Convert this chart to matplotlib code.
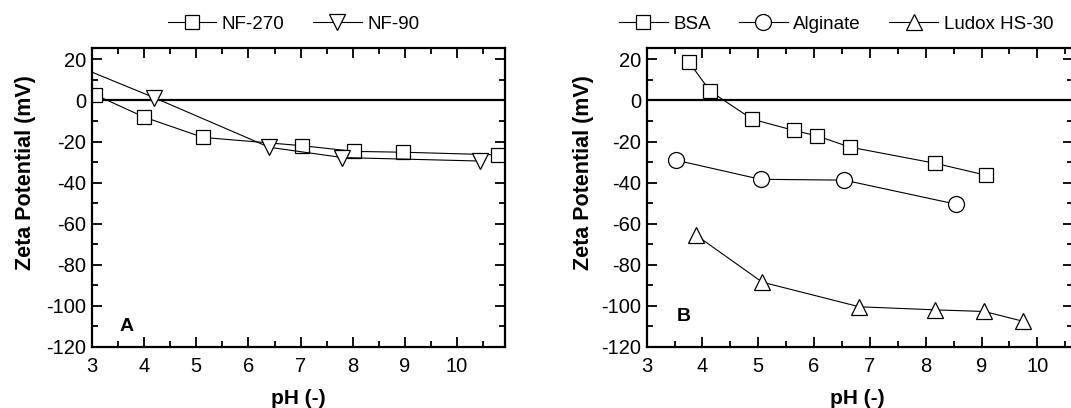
import numpy as np
import matplotlib
matplotlib.use('Agg')
import matplotlib.pyplot as plt
from matplotlib.ticker import MultipleLocator

plt.rcParams['font.family'] = ['Liberation Sans', 'DejaVu Sans']
plt.rcParams['font.size'] = 14.5
plt.rcParams['axes.unicode_minus'] = False

# panel A - membranes
ph_nf270 = [3.06, 4.0, 5.13, 7.02, 8.03, 8.96, 10.79]
zp_nf270 = [2.8, -8.1, -18.0, -22.0, -24.8, -25.2, -26.5]
ph_nf90 = [2.75, 4.19, 6.4, 7.8, 10.44]
zp_nf90 = [16.4, 1.4, -22.8, -27.8, -29.5]

# panel B - foulants
ph_bsa = [3.76, 4.14, 4.89, 5.64, 6.06, 6.64, 8.17, 9.08]
zp_bsa = [18.6, 4.5, -9.1, -14.6, -17.3, -22.7, -30.6, -36.4]
ph_alg = [3.53, 5.04, 6.54, 8.54]
zp_alg = [-29.1, -38.4, -38.8, -50.5]
ph_ludox = [3.88, 5.07, 6.81, 8.17, 9.05, 9.75]
zp_ludox = [-65.5, -88.5, -100.5, -102.0, -102.8, -107.6]

fig = plt.figure(figsize=(10.71, 4.08), dpi=100)
axA = fig.add_axes([0.0859, 0.150, 0.3856, 0.732])
axB = fig.add_axes([0.6038, 0.150, 0.3981, 0.732])

mk = dict(color='black', lw=0.8, mfc='white', mec='black', mew=0.9)

axA.plot(ph_nf270, zp_nf270, marker='s', ms=10.5, label='NF-270', **mk)
axA.plot(ph_nf90, zp_nf90, marker='v', ms=11, label='NF-90', **mk)

axB.plot(ph_bsa, zp_bsa, marker='s', ms=10.5, label='BSA', **mk)
axB.plot(ph_alg, zp_alg, marker='o', ms=11.5, label='Alginate', **mk)
axB.plot(ph_ludox, zp_ludox, marker='^', ms=11, label='Ludox HS-30', **mk)

panels = [(axA, 10.92, 'A', -110, -0.162, 0.5), (axB, 10.64, 'B', -105, -0.147, 0.493)]
for ax, xmax, letter, ly, ylx, xlx in panels:
    ax.axhline(0, color='black', lw=1.6, zorder=1)
    ax.set_xlim(3, xmax)
    ax.set_ylim(-120, 25.5)
    ax.xaxis.set_major_locator(MultipleLocator(1))
    ax.xaxis.set_minor_locator(MultipleLocator(0.5))
    ax.yaxis.set_major_locator(MultipleLocator(20))
    ax.yaxis.set_minor_locator(MultipleLocator(10))
    ax.tick_params(which='both', direction='in', top=True, right=True, width=1.3)
    ax.tick_params(which='major', length=7, pad=4)
    ax.tick_params(axis='x', which='major', pad=7)
    ax.tick_params(which='minor', length=4)
    for s in ax.spines.values():
        s.set_linewidth(1.6)
    ax.set_xlabel('pH (-)', fontweight='bold', fontsize=15)
    ax.set_ylabel('Zeta Potential (mV)', fontweight='bold', fontsize=15.5, va='center')
    ax.xaxis.set_label_coords(xlx, -0.14)
    ax.yaxis.set_label_coords(ylx, 0.583)
    ax.text(3.67, ly, letter, fontweight='bold', fontsize=14, ha='center', va='center')

legkw = dict(frameon=False, loc='center', bbox_transform=fig.transFigure, fontsize=13.5,
             handlelength=2.6, handletextpad=0.3, columnspacing=1.5, borderaxespad=0)
axA.legend(ncol=2, bbox_to_anchor=(0.274, 0.94), **legkw)
axB.legend(ncol=3, bbox_to_anchor=(0.7806, 0.94), **legkw)

fig.savefig('out.png', dpi=100)
